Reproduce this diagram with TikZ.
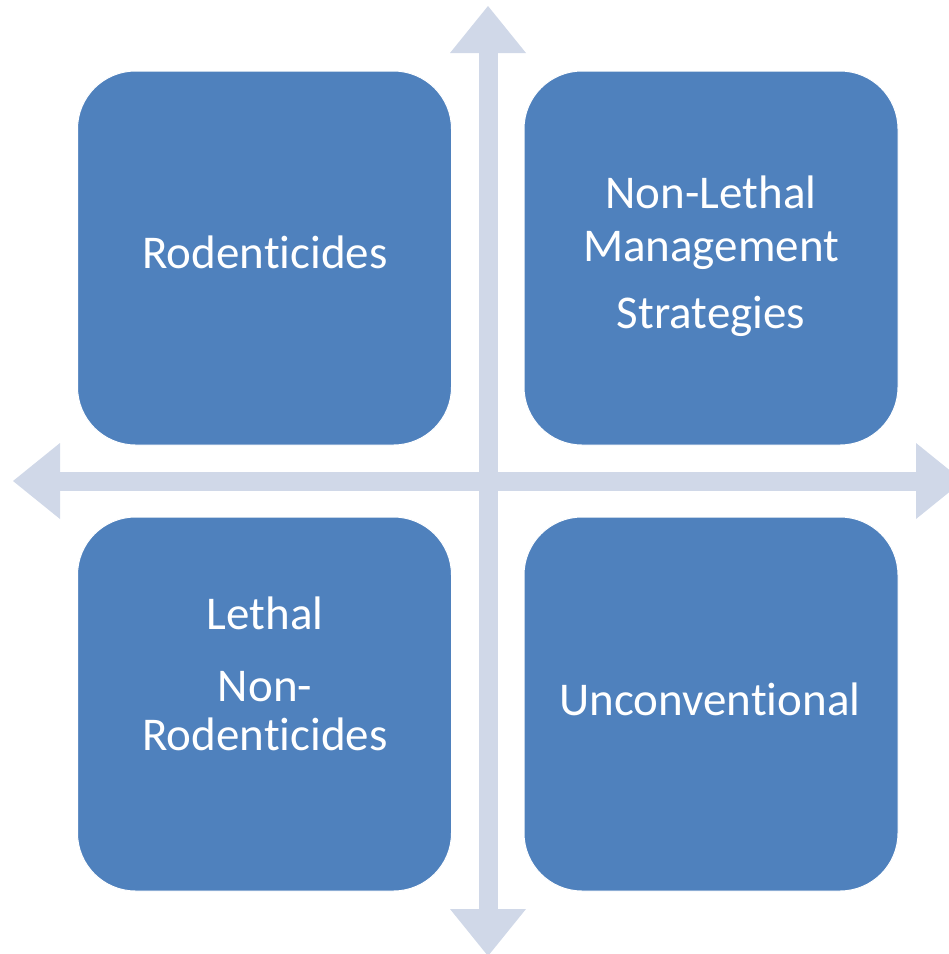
\documentclass[tikz,border=0pt]{standalone}
\usepackage{fontspec}
\setmainfont{Carlito}[Ligatures=NoCommon]
\usetikzlibrary{arrows.meta}
\definecolor{quadblue}{HTML}{4F81BD}
\definecolor{axisgrey}{HTML}{D0D8E8}

\begin{document}
\begin{tikzpicture}[x=1pt,y=-1pt,
    quad/.style={draw=white, line width=1pt, fill=quadblue, rounded corners=58pt,
      minimum width=374pt, minimum height=374pt, inner sep=0pt},
    quadtext/.style={text=white, font=\fontsize{47}{53}\selectfont, align=center, inner sep=0pt, anchor=base},
    axis/.style={axisgrey, line width=19pt,
      {Triangle[width=76pt,length=47pt,line width=0pt]}-{Triangle[width=76pt,length=47pt,line width=0pt]}}]
  \useasboundingbox (0,0) rectangle (949,954);
  % axes
  \coordinate (top)    at (488,6);
  \coordinate (bottom) at (488,956);
  \coordinate (left)   at (13,481);
  \coordinate (right)  at (963,481);
  \draw[axis] (top) -- (bottom);
  \draw[axis] (left) -- (right);
  % quadrants
  \node[quad] (rod)    at (264.5,258) {};
  \node[quad] (nonleth) at (711,258) {};
  \node[quad] (leth)   at (264.5,704) {};
  \node[quad] (unconv) at (711,704) {};
  % texts, placed by the baseline of the last line
  \node[quadtext] (rodtxt)     at (265,268) {Rodenticides};
  \node[quadtext] (nonlethtxt) at (711,328) {Non-Lethal\\Management\\[14pt]Strategies};
  \node[quadtext] (lethtxt)    at (265,750) {Lethal\\[19pt]Non-\\[-4pt]Rodenticides};
  \node[quadtext] (unconvtxt)  at (710,715) {Unconventional};
\end{tikzpicture}
\end{document}
